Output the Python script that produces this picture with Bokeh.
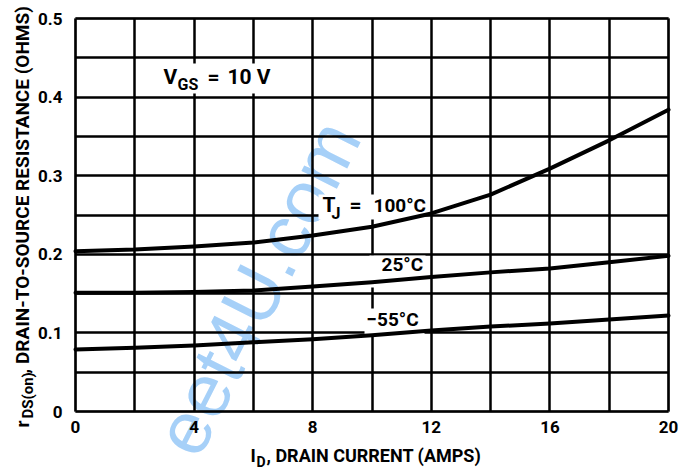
import math
from bokeh.plotting import figure
from bokeh.models import Range1d, FixedTicker, Label, Grid, BoxAnnotation
from bokeh.embed import file_html
from bokeh.resources import INLINE

# ---- data ----
drain_current = [0, 2, 4, 6, 8, 10, 12, 14, 16, 18, 20]
r_100c = [0.204, 0.206, 0.210, 0.215, 0.224, 0.235, 0.252, 0.276, 0.309, 0.345, 0.384]
r_25c = [0.151, 0.151, 0.152, 0.154, 0.159, 0.1645, 0.171, 0.177, 0.182, 0.190, 0.198]
r_m55c = [0.079, 0.081, 0.084, 0.088, 0.092, 0.097, 0.103, 0.108, 0.112, 0.117, 0.122]

x_ticks = [0, 4, 8, 12, 16, 20]
x_tick_labels = ["0", "4", "8", "12", "16", "20"]
y_ticks = [0, 0.1, 0.2, 0.3, 0.4, 0.5]
y_tick_labels = ["0", "0.1", "0.2", "0.3", "0.4", "0.5"]
x_grid = [0, 2, 4, 6, 8, 10, 12, 14, 16, 18, 20]
y_grid = [0, 0.05, 0.1, 0.15, 0.2, 0.25, 0.3, 0.35, 0.4, 0.45, 0.5]
x_lim = (0, 20)
y_lim = (0, 0.5)

FONT = "Roboto, 'Liberation Sans', sans-serif"

# the frame covers the whole canvas; chart box sits at px 75..668 x 18..411
W, H = 679, 470
L, R, T, B = 75, 668, 18, 411
sx = (R - L) / (x_lim[1] - x_lim[0])
sy = (B - T) / (y_lim[1] - y_lim[0])


def dx(px):
    return x_lim[0] + (px - L) / sx


def dy(py):
    return y_lim[0] + (B - py) / sy


p = figure(width=W, height=H,
           x_range=Range1d(dx(0), dx(W)), y_range=Range1d(dy(H), dy(0)),
           output_backend="svg", toolbar_location=None, min_border=0)
p.title.visible = False
p.background_fill_color = "white"
p.border_fill_color = "white"
p.outline_line_color = None

p.xgrid.ticker = FixedTicker(ticks=x_grid)
p.ygrid.ticker = FixedTicker(ticks=y_grid)
has_cross = "cross_bounds" in Grid.properties()
for g in (p.xgrid, p.ygrid):
    g.grid_line_color = "black"
    g.grid_line_width = 2.5
    g.grid_line_alpha = 1.0
if has_cross:
    p.xgrid.cross_bounds = y_lim
    p.ygrid.cross_bounds = x_lim
else:
    p.xgrid.visible = False
    p.ygrid.visible = False
    p.segment(x0=x_grid, y0=[y_lim[0]] * len(x_grid), x1=x_grid, y1=[y_lim[1]] * len(x_grid),
              line_color="black", line_width=2.5)
    p.segment(x0=[x_lim[0]] * len(y_grid), y0=y_grid, x1=[x_lim[1]] * len(y_grid), y1=y_grid,
              line_color="black", line_width=2.5)

p.xaxis.ticker = FixedTicker(ticks=x_ticks)
p.yaxis.ticker = FixedTicker(ticks=y_ticks)
p.xaxis.major_label_overrides = dict(zip(x_ticks, x_tick_labels))
p.yaxis.major_label_overrides = dict(zip(y_ticks, y_tick_labels))
p.xaxis.fixed_location = y_lim[0]
p.yaxis.fixed_location = x_lim[0]
p.xaxis.bounds = x_lim
p.yaxis.bounds = y_lim
for ax in (p.xaxis, p.yaxis):
    ax.axis_line_color = None
    ax.major_tick_line_color = None
    ax.minor_tick_line_color = None
    ax.major_tick_out = 0
    ax.major_tick_in = 0
    ax.major_label_text_font = FONT
    ax.major_label_text_font_style = "bold"
    ax.major_label_text_font_size = "17px"
    ax.major_label_text_color = "black"
p.xaxis.major_label_standoff = 9
p.yaxis.major_label_standoff = 13

# watermark (under everything)
p.add_layout(Label(x=dx(257), y=dy(287), text="eet4U.com", angle=1.10,
                   text_align="center", text_baseline="middle",
                   text_font="'Liberation Sans', Arial, sans-serif",
                   text_font_size="75px", text_color="#a6d0f8",
                   level="image"))

# white patches behind the curve labels (break the grid, stay under the curves)
for (l, r, t, b) in [(160, 272, 63, 93), (318, 423, 194, 219),
                     (369, 425, 255, 287), (364, 424, 308, 335)]:
    p.add_layout(BoxAnnotation(left=dx(l), right=dx(r), top=dy(t), bottom=dy(b),
                               fill_color="white", fill_alpha=1.0,
                               line_color=None, level="underlay"))

# chart border
p.add_layout(BoxAnnotation(left=x_lim[0], right=x_lim[1], bottom=y_lim[0], top=y_lim[1],
                           fill_color=None, line_color="black", line_width=3,
                           level="underlay"))

# curves
for series in (r_100c, r_25c, r_m55c):
    p.line(drain_current, series, line_color="black", line_width=4,
           line_join="round", line_cap="round")


def lab(px, py, text, size, rotated=False):
    """px, py: left end of the baseline in screen pixels."""
    shift = 0.4 * size  # Bokeh puts the alphabetic baseline a bit below the anchor
    if rotated:
        x, y, angle = dx(px - shift), dy(py), math.pi / 2
    else:
        x, y, angle = dx(px), dy(py - shift), 0.0
    p.add_layout(Label(x=x, y=y, text=text, angle=angle,
                       text_font=FONT, text_font_style="bold",
                       text_font_size=f"{size}px", text_color="black",
                       text_baseline="alphabetic", text_align="left"))


# V_GS = 10 V
lab(163, 85, "V", 21)
lab(177, 90, "GS", 16)
lab(207, 85, "=", 21)
lab(227, 85, "10 V", 21)

# T_J = 100 C
lab(322, 213, "T", 21)
lab(331, 219, "J", 16)
lab(349, 213, "=", 21)
lab(373, 213, "100°C", 19)

lab(381, 272, "25°C", 19)
lab(366, 327, "\u221255°C", 19)

# x-axis title
lab(250, 462, "I", 18)
lab(256, 467, "D", 14)
lab(266, 462, ", DRAIN CURRENT (AMPS)", 18)

# y-axis title (rotated, reads bottom to top)
lab(30, 427, "r", 19, rotated=True)
lab(33, 418, "DS(on)", 15, rotated=True)
lab(30, 373, ", DRAIN-TO-SOURCE RESISTANCE (OHMS)", 19, rotated=True)

open("out.html", "w").write(file_html(p, INLINE))
